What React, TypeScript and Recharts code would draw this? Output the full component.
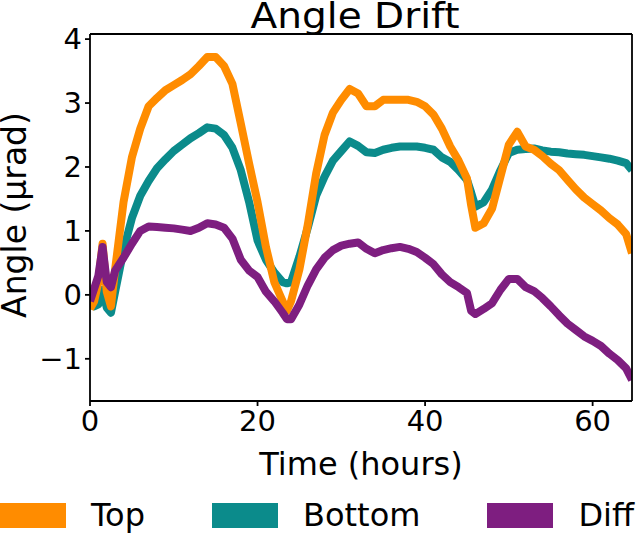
import React from 'react'
import { LineChart, Line, XAxis, YAxis, Legend, ReferenceLine } from 'recharts'

const FONT = '"DejaVu Sans", sans-serif'

// time axis shared by all three traces (hours)
const hours = [
  0, 0.5, 1, 1.5, 2, 2.5, 3,
  4, 5, 6, 7, 8, 9, 10, 11, 12, 13, 14, 15, 16, 17, 18, 19, 20, 21, 22, 23,
  23.5,
  24, 25, 26, 27, 28, 29, 30, 31, 32, 33, 34, 35, 36, 37, 38, 39, 40, 41, 42, 43, 44, 45,
  45.5,
  46, 47, 48, 49, 50, 51, 52, 53, 54, 55, 56, 57, 58, 59, 60, 61, 62, 63, 64,
  64.7,
]

const topAngle = [
  -0.22, -0.1, 0.2, 0.8, 0.05, -0.18, 0.4,
  1.45, 2.15, 2.6, 2.95, 3.08, 3.2, 3.28, 3.36, 3.45, 3.58, 3.72, 3.72, 3.58, 3.3, 2.68, 2.05, 1.45, 0.75, 0.2, -0.1,
  -0.25,
  -0.1, 0.4, 1.1, 1.9, 2.5, 2.85, 3.05, 3.22, 3.15, 2.95, 2.95, 3.05, 3.05, 3.05, 3.05, 3.02, 2.95, 2.82, 2.6, 2.32, 2.1, 1.82,
  1.4,
  1.05, 1.12, 1.35, 1.85, 2.35, 2.55, 2.32, 2.27, 2.17, 2.05, 1.95, 1.8, 1.65, 1.52, 1.42, 1.32, 1.2, 1.1, 0.95,
  0.65,
]

const bottomAngle = [
  -0.15, -0.18, -0.15, 0.08, -0.2, -0.28, 0.05,
  0.7, 1.2, 1.55, 1.78, 1.98, 2.12, 2.25, 2.35, 2.45, 2.53, 2.62, 2.6, 2.5, 2.3, 1.95, 1.45, 0.85, 0.55, 0.35, 0.2,
  0.18,
  0.2, 0.6, 1.05, 1.55, 1.85, 2.1, 2.25, 2.4, 2.33, 2.23, 2.22, 2.27, 2.3, 2.32, 2.32, 2.32, 2.3, 2.27, 2.15, 2.08, 1.95, 1.8,
  1.6,
  1.38, 1.45, 1.65, 1.95, 2.22, 2.27, 2.28, 2.29, 2.26, 2.24, 2.23, 2.21, 2.2, 2.19, 2.17, 2.15, 2.13, 2.1, 2.06,
  1.95,
]

const diffAngle = [
  -0.1, 0.1, 0.3, 0.75, 0.2, 0.12, 0.38,
  0.58, 0.8, 1.0, 1.07, 1.06, 1.05, 1.04, 1.02, 1.0, 1.05, 1.12, 1.1, 1.05, 0.88, 0.55, 0.38, 0.28, 0.05, -0.1, -0.28,
  -0.38,
  -0.38, -0.15, 0.15, 0.4, 0.58, 0.7, 0.77, 0.8, 0.82, 0.72, 0.65, 0.7, 0.73, 0.75, 0.72, 0.67, 0.58, 0.48, 0.32, 0.2, 0.12, 0.03,
  -0.25,
  -0.3, -0.22, -0.13, 0.08, 0.25, 0.25, 0.12, 0.06, -0.05, -0.18, -0.32, -0.45, -0.55, -0.65, -0.72, -0.8, -0.92, -1.02, -1.15,
  -1.33,
]

const xTicks = [0, 20, 40, 60]
const yTicks = [-1, 0, 1, 2, 3, 4]

const seriesNames = ['Top', 'Bottom', 'Diff']
const seriesColors = ['#ff8c00', '#0b8b8b', '#7e1e80']

const data = hours.map((t, i) => ({
  t,
  top: topAngle[i],
  bottom: bottomAngle[i],
  diff: diffAngle[i],
}))

const X_MAX = 64.7
const Y_MIN = -1.66
const Y_MAX = 4.08

function PatchLegend() {
  return (
    <div style={{ display: 'flex', alignItems: 'center', fontFamily: FONT, fontSize: 32, whiteSpace: 'nowrap' }}>
      {seriesNames.map((name, i) => (
        <div key={name} style={{ display: 'flex', alignItems: 'center', marginRight: 67 }}>
          <span style={{ display: 'inline-block', width: 66, height: 25, background: seriesColors[i], marginRight: 25 }} />
          <span style={{ color: '#000', lineHeight: '32px' }}>{name}</span>
        </div>
      ))}
    </div>
  )
}

const tickStyle = { fill: '#000', fontSize: 29, fontFamily: FONT }
const spine = { stroke: '#000', strokeWidth: 1.8 }

export default function App() {
  return (
    <div style={{ position: 'absolute', left: 0, top: 0, width: 640, height: 538, background: '#fff', overflow: 'hidden' }}>
      <LineChart width={640} height={538} data={data} margin={{ top: 34, right: 8, left: 30, bottom: 77 }}>
        <XAxis
          dataKey="t"
          type="number"
          domain={[0, X_MAX]}
          ticks={xTicks}
          allowDataOverflow
          height={60}
          tick={tickStyle}
          tickSize={5}
          tickMargin={4}
          axisLine={spine}
          tickLine={spine}
          label={{ value: 'Time (hours)', position: 'insideBottom', offset: -14, fill: '#000', fontSize: 32, fontFamily: FONT }}
        />
        <YAxis
          type="number"
          domain={[Y_MIN, Y_MAX]}
          ticks={yTicks}
          allowDataOverflow
          width={60}
          tick={tickStyle}
          tickSize={5}
          tickMargin={3}
          tickFormatter={(v: number) => (v < 0 ? `\u2212${Math.abs(v)}` : `${v}`)}
          axisLine={spine}
          tickLine={spine}
        />
        <Line dataKey="bottom" name="Bottom" stroke={seriesColors[1]} strokeWidth={8} dot={false} isAnimationActive={false} strokeLinejoin="round" />
        <Line dataKey="top" name="Top" stroke={seriesColors[0]} strokeWidth={8} dot={false} isAnimationActive={false} strokeLinejoin="round" />
        <Line dataKey="diff" name="Diff" stroke={seriesColors[2]} strokeWidth={8} dot={false} isAnimationActive={false} strokeLinejoin="round" />
        <ReferenceLine y={Y_MAX} stroke="#000" strokeWidth={1.8} />
        <ReferenceLine x={X_MAX} stroke="#000" strokeWidth={1.8} />
        <Legend
          layout="horizontal"
          verticalAlign="middle"
          align="center"
          content={() => <PatchLegend />}
          wrapperStyle={{ left: 0, top: 499, width: 760, height: 34 }}
        />
      </LineChart>
      <svg width={640} height={538} style={{ position: 'absolute', left: 0, top: 0, pointerEvents: 'none' }}>
        <text
          x={355} y={28} textAnchor="middle" fill="#000" fontSize={35} fontFamily={FONT}
          textLength={209} lengthAdjust="spacingAndGlyphs"
        >
          Angle Drift
        </text>
        <text x={26} y={215} transform="rotate(-90, 26, 215)" textAnchor="middle" fill="#000" fontSize={33} fontFamily={FONT}>
          Angle (µrad)
        </text>
      </svg>
    </div>
  )
}
